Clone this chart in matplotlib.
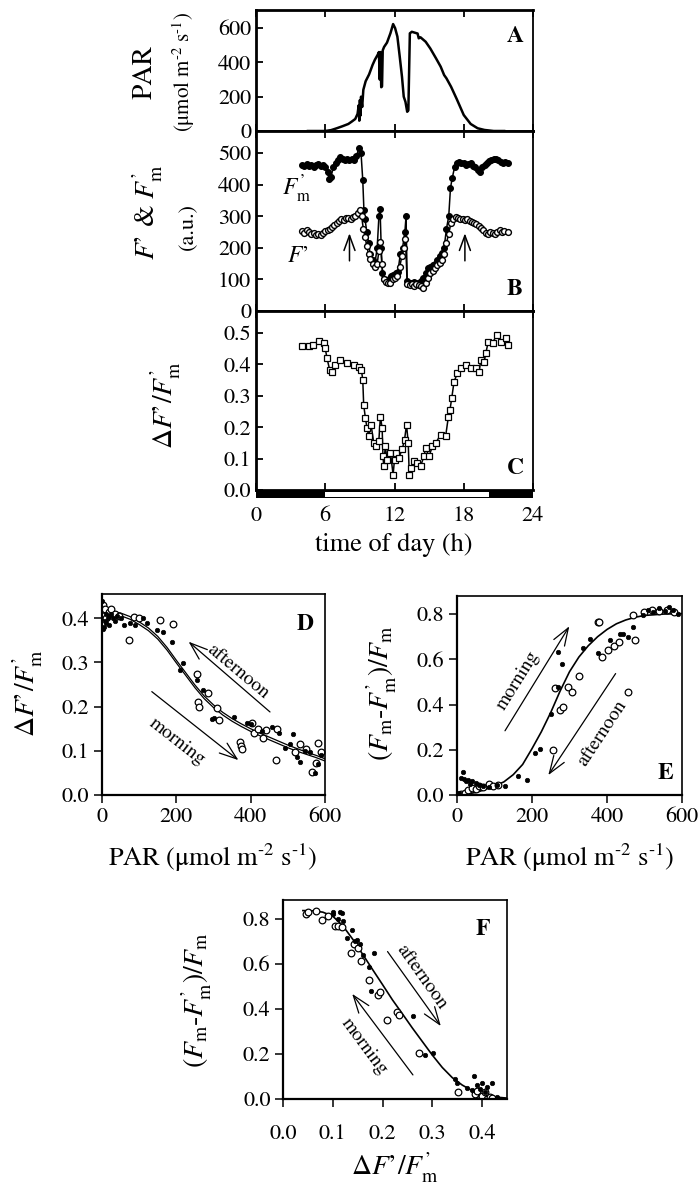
import matplotlib
matplotlib.use("Agg")
import matplotlib.pyplot as plt
from matplotlib.patches import Rectangle
from matplotlib.transforms import blended_transform_factory
from matplotlib.ticker import FormatStrFormatter

plt.rcParams['font.family'] = ['STIXGeneral', 'DejaVu Serif']
plt.rcParams['mathtext.fontset'] = 'stix'

# ---------------- data ----------------
# Panel A: PAR time course
par_hour = [4.5, 5.0, 5.5, 6.0, 6.5, 7.0, 7.5, 8.0, 8.3, 8.6,
            8.8, 8.9, 8.95, 9.0, 9.05, 9.1, 9.2, 9.3, 9.5, 9.8,
            10.1, 10.3, 10.55, 10.65, 10.72, 10.78, 10.85, 10.92, 10.98, 11.1,
            11.35, 11.65, 11.88, 12.05, 12.25, 12.45, 12.65, 12.8, 12.95, 13.1,
            13.2, 13.33, 13.5, 13.8, 14.0, 14.1, 14.25, 14.7, 15.1, 15.6,
            16.0, 16.3, 16.5, 16.9, 17.4, 18.0, 18.6, 19.2, 19.8, 20.6,
            21.5]
par_value = [0, 0, 0, 0, 5, 16, 28, 41, 55, 70,
             100, 150, 60, 180, 90, 200, 140, 240, 290, 330,
             385, 415, 445, 460, 300, 460, 255, 260, 470, 490,
             515, 570, 623, 600, 550, 435, 315, 200, 170, 112,
             120, 569, 578, 572, 568, 540, 546, 520, 481, 423,
             375, 326, 307, 258, 185, 93, 41, 16, 6, 0,
             0]

# Panel B: Fm' (filled) and F' (open)
fm_hour = [4.0, 4.2, 4.4, 4.6, 4.8, 5.0, 5.2, 5.4, 5.6, 5.8,
           6.0, 6.2, 6.35, 6.5, 6.7, 6.9, 7.1, 7.3, 7.5, 7.7,
           7.9, 8.1, 8.3, 8.5, 8.7, 8.9, 9.1, 9.25, 9.35, 9.45,
           9.6, 9.75, 9.9, 10.1, 10.3, 10.5, 10.65, 10.75, 10.85, 10.95,
           11.1, 11.3, 11.5, 11.7, 11.9, 12.1, 12.3, 12.5, 12.7, 12.9,
           13.0, 13.1, 13.3, 13.5, 13.7, 13.9, 14.1, 14.3, 14.5, 14.7,
           14.9, 15.1, 15.3, 15.5, 15.7, 15.9, 16.1, 16.3, 16.5, 16.7,
           16.85, 17.0, 17.2, 17.4, 17.6, 17.8, 18.0, 18.2, 18.4, 18.6,
           18.8, 19.0, 19.2, 19.4, 19.6, 19.8, 20.0, 20.2, 20.4, 20.6,
           20.8, 21.0, 21.2, 21.4, 21.6, 21.8]
fm_value = [462, 458, 465, 460, 463, 457, 462, 466, 459, 461,
            455, 440, 418, 425, 455, 470, 478, 488, 480, 477,
            480, 478, 482, 478, 490, 515, 500, 415, 320, 290,
            250, 215, 180, 160, 150, 200, 300, 322, 200, 120,
            100, 95, 100, 110, 115, 120, 125, 180, 200, 250,
            300, 95, 90, 90, 92, 88, 90, 95, 105, 120,
            135, 140, 145, 150, 160, 175, 185, 200, 260, 300,
            390, 420, 455, 470, 472, 468, 470, 462, 465, 470,
            460, 455, 445, 440, 455, 462, 468, 475, 478, 480,
            482, 478, 472, 470, 472, 468]
fs_hour = [4.0, 4.2, 4.4, 4.6, 4.8, 5.0, 5.2, 5.4, 5.6, 5.8,
           6.0, 6.2, 6.4, 6.6, 6.8, 7.0, 7.2, 7.4, 7.6, 7.8,
           8.0, 8.2, 8.4, 8.6, 8.8, 9.0, 9.15, 9.3, 9.45, 9.6,
           9.75, 9.9, 10.1, 10.3, 10.5, 10.65, 10.78, 10.9, 11.05, 11.25,
           11.45, 11.65, 11.85, 12.05, 12.25, 12.45, 12.65, 12.85, 12.95, 13.1,
           13.3, 13.5, 13.7, 13.9, 14.1, 14.3, 14.5, 14.7, 14.9, 15.1,
           15.3, 15.5, 15.7, 15.9, 16.1, 16.3, 16.5, 16.7, 16.9, 17.1,
           17.3, 17.5, 17.7, 17.9, 18.1, 18.3, 18.5, 18.7, 18.9, 19.1,
           19.3, 19.5, 19.7, 19.9, 20.1, 20.3, 20.5, 20.7, 20.9, 21.1,
           21.3, 21.5, 21.8]
fs_value = [252, 248, 255, 250, 245, 248, 242, 245, 240, 248,
            252, 255, 260, 265, 272, 278, 285, 290, 288, 294,
            295, 292, 298, 300, 310, 320, 300, 260, 235, 205,
            180, 165, 150, 140, 150, 190, 217, 150, 100, 92,
            88, 90, 100, 105, 112, 140, 175, 200, 227, 84,
            82, 85, 80, 84, 82, 78, 74, 90, 105, 120,
            128, 135, 145, 152, 160, 180, 215, 245, 280, 292,
            297, 294, 292, 290, 288, 290, 285, 282, 280, 275,
            270, 262, 255, 248, 245, 250, 248, 245, 250, 255,
            250, 252, 250]

# Panel C: dF'/Fm' time course
phi_hour = [3.97, 4.55, 4.98, 5.5, 5.9, 6.0, 6.15, 6.38, 6.58, 6.87,
            7.3, 7.88, 8.46, 8.9, 9.13, 9.25, 9.33, 9.48, 9.62, 9.77,
            9.97, 10.2, 10.43, 10.64, 10.78, 10.93, 11.0, 11.07, 11.2, 11.36,
            11.65, 11.88, 12.0, 12.17, 12.37, 12.66, 12.87, 13.04, 13.19, 13.28,
            13.45, 13.68, 13.97, 14.26, 14.55, 14.7, 14.99, 15.28, 15.57, 16.0,
            16.43, 16.67, 16.81, 16.96, 17.16, 17.45, 17.74, 18.17, 18.6, 19.04,
            19.33, 19.48, 19.77, 19.91, 20.12, 20.5, 20.87, 21.22, 21.65, 21.86]
phi_value = [0.457, 0.457, 0.462, 0.476, 0.467, 0.451, 0.420, 0.383, 0.377, 0.398,
             0.414, 0.404, 0.398, 0.393, 0.383, 0.351, 0.271, 0.229, 0.197, 0.171,
             0.208, 0.150, 0.139, 0.155, 0.234, 0.197, 0.107, 0.076, 0.139, 0.097,
             0.118, 0.049, 0.097, 0.118, 0.102, 0.129, 0.160, 0.208, 0.150, 0.047,
             0.070, 0.091, 0.086, 0.076, 0.107, 0.134, 0.107, 0.139, 0.150, 0.176,
             0.171, 0.234, 0.256, 0.293, 0.345, 0.372, 0.388, 0.398, 0.388, 0.388,
             0.377, 0.414, 0.409, 0.435, 0.472, 0.469, 0.494, 0.472, 0.483, 0.462]

# day/night bar (h)
day_start = 6.0
day_end = 20.15

# Panel D: dF'/Fm' vs PAR
d_morning_par = [0, 3, 6, 8, 10, 12, 15, 18, 20, 25,
                 30, 35, 40, 50, 60, 75, 90, 110, 120, 148,
                 165, 188, 219, 210, 255, 273, 296, 300, 354, 390,
                 400, 430, 457, 475, 493, 505, 515, 524, 532, 545,
                 560, 573, 580, 590]
d_morning_phi = [0.44, 0.375, 0.38, 0.395, 0.41, 0.39, 0.40, 0.405, 0.385, 0.41,
                 0.40, 0.395, 0.405, 0.40, 0.385, 0.39, 0.385, 0.40, 0.39, 0.373,
                 0.37, 0.347, 0.298, 0.283, 0.26, 0.238, 0.173, 0.175, 0.177, 0.162,
                 0.16, 0.145, 0.155, 0.14, 0.106, 0.115, 0.138, 0.087, 0.075, 0.10,
                 0.097, 0.049, 0.07, 0.09]
d_afternoon_par = [2, 8, 12, 18, 25, 35, 45, 72, 85, 100,
                   157, 192, 255, 257, 260, 286, 309, 316, 372, 374,
                   376, 403, 410, 420, 432, 440, 468, 470, 520, 533,
                   550, 564, 575, 582, 590]
d_afternoon_phi = [0.43, 0.42, 0.40, 0.415, 0.42, 0.41, 0.405, 0.351, 0.404, 0.40,
                   0.396, 0.388, 0.275, 0.211, 0.20, 0.23, 0.196, 0.17, 0.121, 0.11,
                   0.104, 0.164, 0.14, 0.15, 0.13, 0.147, 0.079, 0.15, 0.098, 0.115,
                   0.105, 0.053, 0.072, 0.118, 0.098]
d_fit_par = [0, 25, 50, 75, 100, 125, 150, 175, 200, 225, 250, 275, 300,
             325, 350, 375, 400, 425, 450, 475, 500, 525, 550, 575, 600]
d_fit_morning = [0.418, 0.416, 0.412, 0.404, 0.392, 0.378, 0.359, 0.334, 0.305, 0.277,
                 0.249, 0.224, 0.204, 0.187, 0.173, 0.161, 0.150, 0.140, 0.131, 0.122,
                 0.113, 0.105, 0.097, 0.090, 0.082]
d_fit_afternoon = [0.412, 0.410, 0.406, 0.398, 0.386, 0.372, 0.353, 0.328, 0.299, 0.271,
                   0.243, 0.218, 0.198, 0.181, 0.167, 0.155, 0.144, 0.134, 0.125, 0.116,
                   0.107, 0.099, 0.092, 0.085, 0.077]

# Panel E: (Fm-Fm')/Fm vs PAR
e_morning_par = [0, 5, 10, 15, 20, 25, 30, 35, 40, 50,
                 60, 70, 85, 106, 129, 163, 186, 208, 221, 252,
                 270, 270, 281, 337, 355, 377, 408, 435, 443, 457,
                 470, 497, 510, 523, 540, 555, 565, 575, 590]
e_morning_npq = [0.0, 0.01, 0.075, 0.10, 0.07, 0.06, 0.065, 0.05, 0.06, 0.055,
                 0.045, 0.04, 0.035, 0.044, 0.04, 0.084, 0.066, 0.184, 0.203, 0.357,
                 0.478, 0.633, 0.581, 0.648, 0.692, 0.626, 0.684, 0.711, 0.711, 0.70,
                 0.743, 0.795, 0.82, 0.81, 0.825, 0.815, 0.83, 0.82, 0.80]
e_afternoon_par = [0, 10, 22, 30, 40, 50, 60, 70, 85, 95,
                   110, 257, 261, 275, 283, 296, 306, 326, 377, 380,
                   386, 403, 418, 433, 457, 475, 470, 500, 520, 540,
                   560, 580]
e_afternoon_npq = [0.0, 0.005, 0.007, 0.02, 0.03, 0.025, 0.04, 0.035, 0.05, 0.04,
                   0.045, 0.20, 0.471, 0.375, 0.39, 0.478, 0.456, 0.525, 0.765, 0.765,
                   0.61, 0.643, 0.66, 0.677, 0.456, 0.684, 0.795, 0.81, 0.82, 0.815,
                   0.82, 0.81]
e_fit_par = [0, 25, 50, 75, 100, 125, 150, 175, 200, 225, 250, 275, 300,
             325, 350, 375, 400, 425, 450, 475, 500, 550, 600]
e_fit_npq = [0.0, 0.004, 0.011, 0.024, 0.04, 0.058, 0.09, 0.135, 0.205, 0.28,
             0.365, 0.46, 0.545, 0.61, 0.66, 0.70, 0.732, 0.757, 0.774, 0.786,
             0.794, 0.80, 0.802]

# Panel F: (Fm-Fm')/Fm vs dF'/Fm'
f_morning_phi = [0.10, 0.101, 0.11, 0.115, 0.119, 0.12, 0.129, 0.139, 0.145, 0.149,
                 0.155, 0.16, 0.173, 0.176, 0.182, 0.261, 0.285, 0.302, 0.346, 0.35,
                 0.37, 0.38, 0.383, 0.39, 0.395, 0.40, 0.405, 0.41, 0.42, 0.43]
f_morning_npq = [0.82, 0.83, 0.80, 0.83, 0.828, 0.79, 0.714, 0.751, 0.70, 0.707,
                 0.69, 0.64, 0.585, 0.481, 0.648, 0.37, 0.196, 0.203, 0.088, 0.07,
                 0.05, 0.04, 0.10, 0.06, 0.045, 0.07, 0.03, 0.055, 0.07, 0.01]
f_afternoon_phi = [0.047, 0.05, 0.067, 0.078, 0.09, 0.105, 0.11, 0.118, 0.136, 0.142,
                   0.15, 0.157, 0.173, 0.19, 0.195, 0.209, 0.229, 0.233, 0.274, 0.352,
                   0.385, 0.39, 0.395, 0.40, 0.405, 0.41, 0.415, 0.42]
f_afternoon_npq = [0.822, 0.83, 0.833, 0.796, 0.811, 0.769, 0.77, 0.765, 0.648, 0.69,
                   0.67, 0.615, 0.529, 0.462, 0.475, 0.351, 0.388, 0.372, 0.203, 0.032,
                   0.02, 0.035, 0.0, 0.015, 0.03, 0.0, 0.01, 0.005]
f_fit_phi = [0.04, 0.06, 0.08, 0.10, 0.12, 0.14, 0.16, 0.18, 0.20, 0.22, 0.24,
             0.26, 0.28, 0.30, 0.32, 0.34, 0.36, 0.38, 0.40, 0.42, 0.45]
f_fit_npq = [0.837, 0.836, 0.830, 0.812, 0.770, 0.710, 0.643, 0.575, 0.508, 0.440, 0.378,
             0.315, 0.255, 0.195, 0.140, 0.095, 0.062, 0.037, 0.020, 0.010, 0.004]

time_ticks = [0, 6, 12, 18, 24]

# ---------------- layout helpers ----------------
W, H = 700, 1186
fig = plt.figure(figsize=(W / 100, H / 100), dpi=100)


def axes_px(left, top, right, bottom):
    return fig.add_axes([left / W, 1 - bottom / H, (right - left) / W, (bottom - top) / H])


def ftext(x, y, s, **kw):
    return fig.text(x / W, 1 - y / H, s, ha='center', va='center', **kw)


TICK = 16
LAB = 20
prime = '’'
dphi_label = r"$\Delta F$" + prime + r"$/F_\mathrm{m}^{" + prime + r"}$"
npq_label = r"$(F_\mathrm{m}$-$F_\mathrm{m}^{" + prime + r"})/F_\mathrm{m}$"
unit_text = r"(μmol m$^{\text{-}2}$ s$^{\text{-}1}$)"
par_label = "PAR " + unit_text

# ---------------- top panels ----------------
axA = axes_px(256, 10, 533, 131)
axB = axes_px(256, 131, 533, 311)
axC = axes_px(256, 311, 533, 490)

for ax in (axA, axB, axC):
    ax.set_xlim(0, 24)
    ax.set_xticks(time_ticks)
    ax.tick_params(axis='both', direction='in', top=True, right=False,
                   length=5, width=1.3, labelsize=TICK)
    for side in ('left', 'top', 'bottom'):
        ax.spines[side].set_linewidth(2.0)
    ax.spines['right'].set_linewidth(1.3)

axA.plot(par_hour, par_value, color='black', lw=1.8)
axA.set_ylim(0, 705)
axA.set_yticks([0, 200, 400, 600])
axA.tick_params(labelbottom=False)
axA.text(0.935, 0.78, 'A', transform=axA.transAxes, fontsize=17,
         fontweight='bold', ha='center', va='center')

axB.plot(fm_hour, fm_value, color='black', lw=1.1, marker='o', ms=4.2,
         mfc='black', mec='black', mew=0.8)
axB.plot(fs_hour, fs_value, color='black', lw=1.1, marker='o', ms=4.2,
         mfc='white', mec='black', mew=1.0)
axB.set_ylim(0, 570)
axB.set_yticks([0, 100, 200, 300, 400, 500])
axB.tick_params(labelbottom=False)
axB.text(0.935, 0.12, 'B', transform=axB.transAxes, fontsize=17,
         fontweight='bold', ha='center', va='center')
axB.text(3.5, 387, r"$F_\mathrm{m}^{" + prime + r"}$", fontsize=17, ha='center', va='center')
axB.text(3.65, 174, r"$F$" + prime, fontsize=17, ha='center', va='center')
for xh in (8.1, 18.1):
    axB.annotate('', xy=(xh, 255), xytext=(xh, 150),
                 arrowprops=dict(arrowstyle='->,head_length=0.6,head_width=0.22',
                                 lw=1.1, color='black', mutation_scale=18))

axC.plot(phi_hour, phi_value, color='black', lw=1.1, marker='s', ms=4.0,
         mfc='white', mec='black', mew=0.9)
axC.set_ylim(0, 0.57)
axC.set_yticks([0.0, 0.1, 0.2, 0.3, 0.4, 0.5])
axC.yaxis.set_major_formatter(FormatStrFormatter('%.1f'))
axC.tick_params(axis='x', pad=12)
axC.text(0.935, 0.12, 'C', transform=axC.transAxes, fontsize=17,
         fontweight='bold', ha='center', va='center')
trans = blended_transform_factory(axC.transData, axC.transAxes)
axC.add_patch(Rectangle((0, -0.047), 24, 0.047, transform=trans, facecolor='black',
                        edgecolor='none', clip_on=False, zorder=3))
axC.add_patch(Rectangle((day_start, -0.037), day_end - day_start, 0.027, transform=trans,
                        facecolor='white', edgecolor='none', clip_on=False, zorder=4))

ftext(145, 72, 'PAR', fontsize=LAB, rotation=90)
ftext(184, 72, unit_text, fontsize=15, rotation=90)
ftext(148, 212, r"$F$" + prime + r" & $F_\mathrm{m}^{" + prime + r"}$", fontsize=LAB, rotation=90)
ftext(188, 226, '(a.u.)', fontsize=16, rotation=90)
ftext(166, 405, dphi_label, fontsize=LAB, rotation=90)
ftext(394, 545, 'time of day (h)', fontsize=19)

# ---------------- bottom panels ----------------
axD = axes_px(102, 594, 325, 795)
axE = axes_px(457, 596, 682, 795)
axF = axes_px(283, 900, 507, 1099)

for ax in (axD, axE, axF):
    ax.tick_params(axis='both', direction='out', top=False, right=False,
                   length=6, width=1.1, labelsize=TICK, pad=3)
    for side in ('left', 'bottom'):
        ax.spines[side].set_linewidth(1.6)
    for side in ('top', 'right'):
        ax.spines[side].set_linewidth(1.2)

arrow_kw = dict(arrowstyle='->,head_length=0.7,head_width=0.25', lw=0.9,
                color='black', mutation_scale=18, shrinkA=0, shrinkB=0)

# D
axD.plot(d_fit_par, d_fit_morning, color='black', lw=0.9)
axD.plot(d_fit_par, d_fit_afternoon, color='black', lw=0.9)
axD.plot(d_afternoon_par, d_afternoon_phi, 'o', ms=4.8, mfc='white', mec='black', mew=0.9)
axD.plot(d_morning_par, d_morning_phi, 'o', ms=3.2, mfc='black', mec='black', mew=0.5)
axD.set_xlim(0, 600)
axD.set_ylim(0, 0.455)
axD.set_xticks([0, 200, 400, 600])
axD.set_yticks([0.0, 0.1, 0.2, 0.3, 0.4])
axD.yaxis.set_major_formatter(FormatStrFormatter('%.1f'))
axD.text(0.91, 0.85, 'D', transform=axD.transAxes, fontsize=17,
         fontweight='bold', ha='center', va='center')
axD.annotate('', xy=(233, 0.347), xytext=(452, 0.188), arrowprops=arrow_kw)
axD.text(367, 0.279, 'afternoon', rotation=-40, fontsize=14, ha='center', va='center')
axD.annotate('', xy=(367, 0.079), xytext=(134, 0.234), arrowprops=arrow_kw)
axD.text(201, 0.121, 'morning', rotation=-38, fontsize=14, ha='center', va='center')

# E
axE.plot(e_fit_par, e_fit_npq, color='black', lw=1.2)
axE.plot(e_afternoon_par, e_afternoon_npq, 'o', ms=4.8, mfc='white', mec='black', mew=0.9)
axE.plot(e_morning_par, e_morning_npq, 'o', ms=3.2, mfc='black', mec='black', mew=0.5)
axE.set_xlim(0, 600)
axE.set_ylim(0, 0.88)
axE.set_xticks([0, 200, 400, 600])
axE.set_yticks([0.0, 0.2, 0.4, 0.6, 0.8])
axE.yaxis.set_major_formatter(FormatStrFormatter('%.1f'))
axE.text(0.925, 0.11, 'E', transform=axE.transAxes, fontsize=17,
         fontweight='bold', ha='center', va='center')
axE.annotate('', xy=(299.5, 0.746), xytext=(128, 0.284), arrowprops=arrow_kw)
axE.text(163, 0.508, 'morning', rotation=58, fontsize=14, ha='center', va='center')
axE.annotate('', xy=(243.5, 0.088), xytext=(423, 0.537), arrowprops=arrow_kw)
axE.text(386, 0.272, 'afternoon', rotation=56.5, fontsize=14, ha='center', va='center')

# F
axF.plot(f_fit_phi, f_fit_npq, color='black', lw=1.2)
axF.plot(f_afternoon_phi, f_afternoon_npq, 'o', ms=4.8, mfc='white', mec='black', mew=0.9)
axF.plot(f_morning_phi, f_morning_npq, 'o', ms=3.2, mfc='black', mec='black', mew=0.5)
axF.set_xlim(0, 0.45)
axF.set_ylim(0, 0.884)
axF.set_xticks([0.0, 0.1, 0.2, 0.3, 0.4])
axF.set_yticks([0.0, 0.2, 0.4, 0.6, 0.8])
axF.xaxis.set_major_formatter(FormatStrFormatter('%.1f'))
axF.yaxis.set_major_formatter(FormatStrFormatter('%.1f'))
axF.tick_params(axis='x', pad=12)
axF.text(0.89, 0.85, 'F', transform=axF.transAxes, fontsize=17,
         fontweight='bold', ha='center', va='center')
axF.annotate('', xy=(0.317, 0.324), xytext=(0.210, 0.655), arrowprops=arrow_kw)
axF.text(0.278, 0.544, 'afternoon', rotation=-54.7, fontsize=14, ha='center', va='center')
axF.annotate('', xy=(0.139, 0.467), xytext=(0.261, 0.107), arrowprops=arrow_kw)
axF.text(0.163, 0.232, 'morning', rotation=-53.5, fontsize=14, ha='center', va='center')

# axis labels for bottom panels
ftext(28, 693, dphi_label, fontsize=LAB, rotation=90)
ftext(213, 858, par_label, fontsize=19)
ftext(382, 693, npq_label, fontsize=LAB, rotation=90)
ftext(570, 858, par_label, fontsize=19)
ftext(197, 1000, npq_label, fontsize=LAB, rotation=90)
ftext(395, 1168, dphi_label, fontsize=LAB)

fig.savefig('out.png', dpi=100)
